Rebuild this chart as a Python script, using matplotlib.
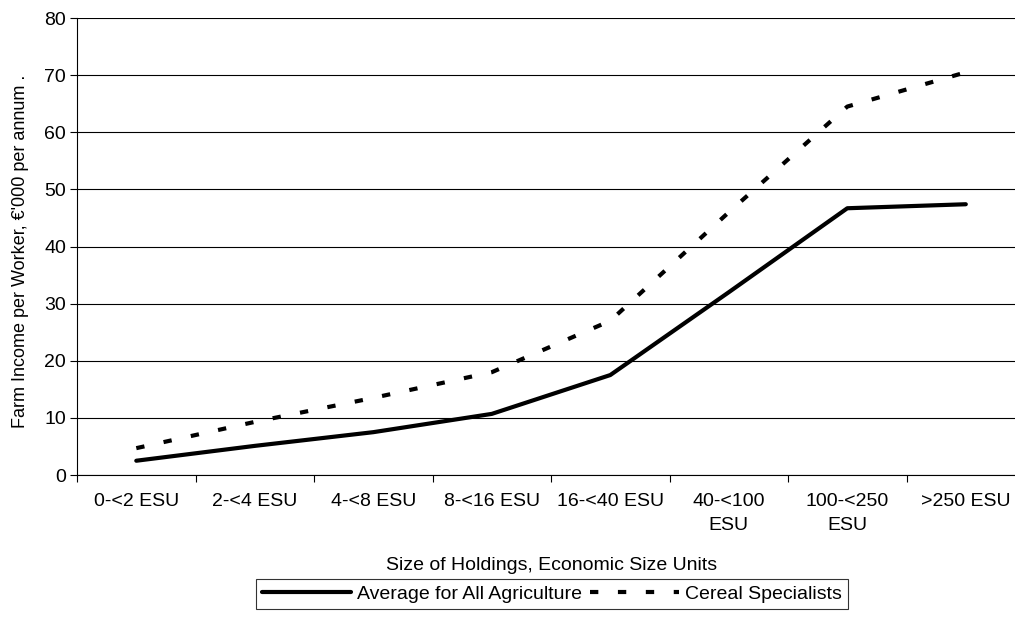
import matplotlib
matplotlib.use("Agg")
import matplotlib.pyplot as plt
import numpy as np

plt.rcParams["font.family"] = ["Liberation Sans", "DejaVu Sans"]
plt.rcParams["font.size"] = 14

# categories and values
categories = ["0-<2 ESU", "2-<4 ESU", "4-<8 ESU", "8-<16 ESU", "16-<40 ESU",
              "40-<100\nESU", "100-<250\nESU", ">250 ESU"]
avg_all = [2.5, 5.1, 7.5, 10.7, 17.5, 32.0, 46.7, 47.4]
cereal = [4.7, 9.3, 13.5, 18.0, 27.0, 46.0, 64.5, 70.5]

x = np.arange(len(categories))

fig = plt.figure(figsize=(10.15, 6.37), dpi=100)
ax = fig.add_axes([0.0759, 0.2543, 0.934, 0.7174])

ax.plot(x, avg_all, color="black", lw=3, solid_capstyle="round",
        label="Average for All Agriculture")
ax.plot(x, cereal, color="black", lw=3, dashes=(2, 4.7), dash_capstyle="butt",
        label="Cereal Specialists")

ax.set_xlim(-0.5, len(categories) - 0.5)
ax.set_ylim(0, 80)
ax.set_yticks(range(0, 81, 10))
ax.yaxis.grid(True, color="black", lw=0.8)
ax.set_axisbelow(True)

# labels at the centres, tick marks at the boundaries
ax.set_xticks(x)
ax.set_xticklabels(categories, linespacing=1.55)
ax.set_xticks(np.arange(-0.5, len(categories), 1), minor=True)
ax.tick_params(axis="x", which="major", length=0, pad=13)
ax.tick_params(axis="x", which="minor", length=5, width=0.8, direction="out")
ax.tick_params(axis="y", length=5, width=0.8, pad=3)

for s in ["top", "right"]:
    ax.spines[s].set_visible(False)
ax.spines["left"].set_linewidth(0.8)
ax.spines["bottom"].set_linewidth(0.8)

ax.set_ylabel("Farm Income per Worker, €'000 per annum .", fontsize=13)
ax.yaxis.set_label_coords(-0.051, 0.49)
fig.text(0.5438, 1 - 566 / 637, "Size of Holdings, Economic Size Units",
         ha="center", va="center")

leg = fig.legend(loc="center", bbox_to_anchor=(0.5438, 1 - 594 / 637), ncol=2,
                 frameon=True, fancybox=False, handlelength=4.6,
                 handletextpad=0.3, columnspacing=0.4, borderpad=0.3,
                 borderaxespad=0)
leg.get_frame().set_edgecolor("black")
leg.get_frame().set_linewidth(0.8)

plt.savefig("out.png", dpi=100)
